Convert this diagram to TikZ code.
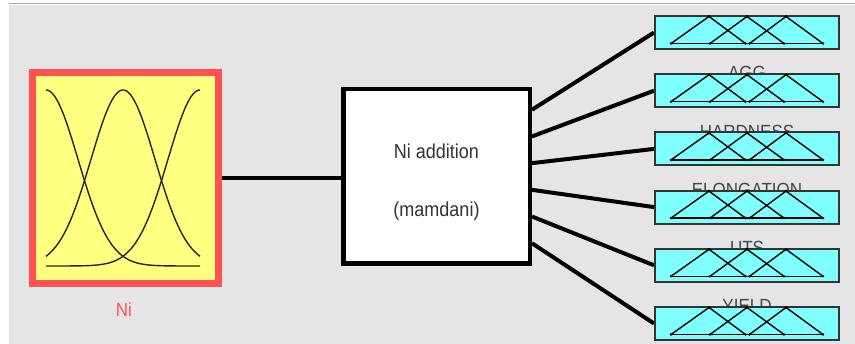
\documentclass[tikz,border=0pt]{standalone}
\usepackage{fontspec}
\setmainfont{Liberation Sans}
\usetikzlibrary{calc}
\definecolor{panel}{HTML}{E5E5E5}
\definecolor{rim}{HTML}{A8A8A8}
\definecolor{inred}{HTML}{FF5252}
\definecolor{inyellow}{HTML}{FFFF80}
\definecolor{outcyan}{HTML}{80FFFF}
\definecolor{ink}{HTML}{333333}
\pgfdeclarelayer{bg}
\pgfdeclarelayer{wires}
\pgfsetlayers{bg,wires,main}
\tikzset{
  declare function={g(\x,\c)=exp(-0.5*((\x-\c)/32)*((\x-\c)/32));},
  inbox/.style={draw=inred, fill=inyellow, line width=7pt, minimum width=186pt, minimum height=211pt, inner sep=0pt},
  rulebox/.style={draw=black, fill=white, line width=4.5pt, minimum width=186.5pt, minimum height=174.5pt, inner sep=0pt},
  outbox/.style={draw=ink, fill=outcyan, line width=2pt, minimum width=184pt, minimum height=33pt, inner sep=0pt},
  wire/.style={line width=4.5pt, black},
  owire/.style={line width=4pt, black},
  mf/.style={line width=1.4pt, black!85},
  tri/.style={line width=1.4pt, black, line join=round},
  txt/.style={inner sep=0pt, font=\fontsize{18}{20}\selectfont, text=ink},
  vname/.style={inner sep=0pt, font=\fontsize{17}{20}\selectfont, text=ink!90, anchor=north},
}
\newcommand{\tall}[1]{\scalebox{1}[1.12]{#1}}
\begin{document}
\begin{tikzpicture}[x=1pt,y=-1pt]
\useasboundingbox (0,0) rectangle (855,344);

% panel background
\begin{pgfonlayer}{bg}
  \fill[white] (0,0) rectangle (855,344);
  \fill[panel] (9,5) rectangle (855,344);
  \draw[rim, line width=1.5pt] (9,3.5) -- (855,3.5);
\end{pgfonlayer}

% input variable
\node[inbox] (ni) at (125.5,178) {};
\draw[mf] plot[domain=46:200, samples=90, smooth] (\x,{266-176*g(\x,46)});
\draw[mf] plot[domain=46:200, samples=90, smooth] (\x,{266-176*g(\x,123)});
\draw[mf] plot[domain=46:200, samples=90, smooth] (\x,{266-176*g(\x,200)});
\node[txt, text=inred, font=\fontsize{17}{20}\selectfont] (nilabel) at (124,310) {\tall{Ni}};

% rule system
\node[rulebox] (mam) at (436.5,176.5) {};
\node[txt] (title) at ($(mam.center)+(0,-25)$) {\tall{Ni addition}};
\node[txt] (kind) at ($(mam.center)+(0,34.5)$) {\tall{(mamdani)}};

% output variable names (partly covered by the next box)
\foreach \i/\lab in {1/AGG, 2/HARDNESS, 3/ELONGATION, 4/UTS, 5/YIELD}{
  \node[vname] (name\i) at (747,{32.5+58.2*(\i-1)+34}) {\tall{\lab}};
}

% output variables
\foreach \i in {1,...,6}{
  \node[outbox] (o\i) at (747,{32.5+58.2*(\i-1)}) {};
  \begin{scope}[shift={(o\i.center)}]
    \foreach \a/\b/\c in {-76/-38/-1.5, -37/0/37, 2.5/39/76}{
      \draw[tri] (\a,11) -- (\b,-16) -- (\c,11);
      \fill (\a,11) circle (1.4) (\b,-16) circle (1.4) (\c,11) circle (1.4);
    }
    \draw[tri] (-76,11) -- (76,11);
  \end{scope}
}

% connectors
\begin{pgfonlayer}{wires}
  \draw[wire] (ni.east) -- (ni.east -| mam.west);
  \foreach \i in {1,...,6}{
    \coordinate (s\i) at ($(mam.east)+(0,{26.7*(\i-3.5)})$);
    \draw[owire] (s\i) -- (o\i.west);
  }
\end{pgfonlayer}
\end{tikzpicture}
\end{document}
